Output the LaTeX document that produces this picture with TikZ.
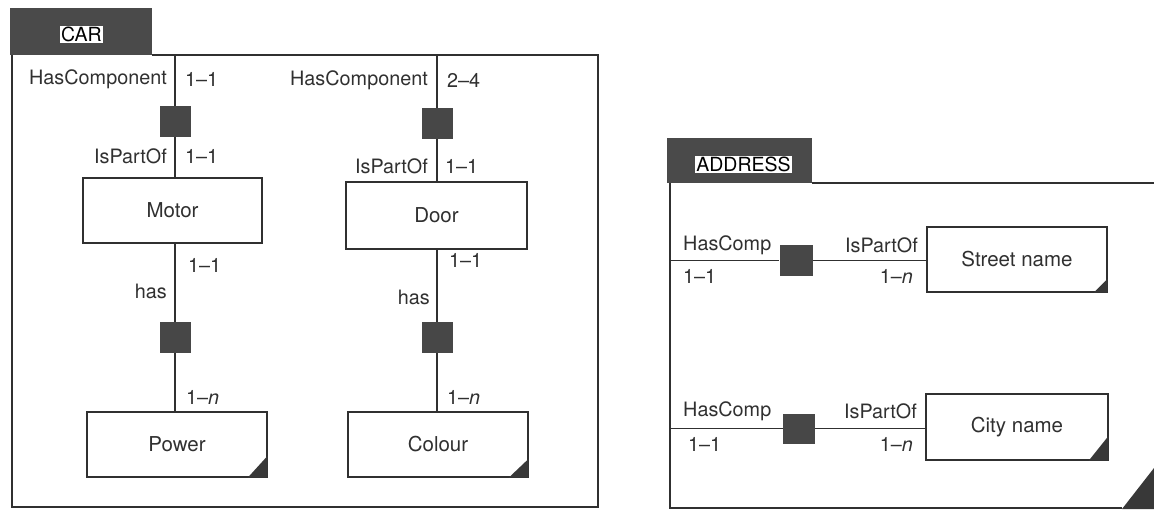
\documentclass[tikz,border=0pt]{standalone}
\usepackage{fontspec}
\setmainfont{TeX Gyre Heros}
\definecolor{ink}{HTML}{303030}
\definecolor{tabfill}{HTML}{4A4A4A}
\definecolor{sqfill}{HTML}{474747}
\definecolor{cornerfill}{HTML}{383838}
\begin{document}
\begin{tikzpicture}[x=1pt,y=-1pt,
  lbl/.style={font=\fontsize{19.8}{22}\selectfont, text=ink, inner sep=0pt},
  entity/.style={draw=ink, line width=1.4pt, fill=white, inner sep=0pt,
    font=\fontsize{20.5}{23}\selectfont, text=ink},
  relsq/.style={draw=none, fill=sqfill, inner sep=0pt, minimum width=31pt, minimum height=31pt},
  frameline/.style={draw=ink, line width=1.5pt},
  conn/.style={draw=ink, line width=1.1pt},
  tabbox/.style={fill=tabfill, draw=none},
  tablabel/.style={fill=white, text=black, inner sep=1pt, font=\fontsize{19.5}{21}\selectfont}
]
\useasboundingbox (0,0) rectangle (1154,509);

% ---------- CAR frame ----------
\fill[tabfill] (10,8) rectangle (152,55);
\node[tablabel, minimum width=43pt, minimum height=17pt] (cartab) at (81.5,34.5) {CAR};
\draw[frameline] (152,55) -- (598,55) -- (598,507) -- (12,507) -- (12,55);

% column 1
\coordinate (c1top) at (175,55);
\node[relsq] (sq1) at (175,121.5) {};
\node[entity, minimum width=179pt, minimum height=65pt] (motor) at (172.5,210.5) {Motor};
\node[relsq] (sq2) at (175,337.5) {};
\node[entity, minimum width=180pt, minimum height=65pt] (power) at (177,444.5) {Power};
\fill[cornerfill] (power.south east) -- ++(-20,0) -- ++(20,-22) -- cycle;

\draw[conn] (c1top) -- (sq1);
\draw[conn] (sq1) -- (sq1 |- motor.north);
\draw[conn] (sq1 |- motor.south) -- (sq2);
\draw[conn] (sq2) -- (sq2 |- power.north);

\node[lbl, anchor=east] (l1) at (167,79) {HasComponent};
\node[lbl, anchor=west] (l2) at (185,79) {1–1};
\node[lbl, anchor=east] (l3) at (167,156) {IsPartOf};
\node[lbl, anchor=west] (l4) at (185,156) {1–1};
\node[lbl, anchor=west] (l5) at (188,265) {1–1};
\node[lbl, anchor=east] (l6) at (167,291) {has};
\node[lbl, anchor=west] (l7) at (186,397) {1–\textit{n}};

% column 2
\coordinate (c2top) at (437,55);
\node[relsq] (sq3) at (437,123.5) {};
\node[entity, minimum width=181pt, minimum height=67pt] (door) at (436.5,215.5) {Door};
\node[relsq] (sq4) at (437,337.5) {};
\node[entity, minimum width=180pt, minimum height=65pt] (colour) at (438,444.5) {Colour};
\fill[cornerfill] (colour.south east) -- ++(-20,0) -- ++(20,-19) -- cycle;

\draw[conn] (c2top) -- (sq3);
\draw[conn] (sq3) -- (sq3 |- door.north);
\draw[conn] (sq3 |- door.south) -- (sq4);
\draw[conn] (sq4) -- (sq4 |- colour.north);

\node[lbl, anchor=east] (m1) at (428,80) {HasComponent};
\node[lbl, anchor=west] (m2) at (447,80) {2–4};
\node[lbl, anchor=east] (m3) at (428,166) {IsPartOf};
\node[lbl, anchor=west] (m4) at (445,166) {1–1};
\node[lbl, anchor=west] (m5) at (449,260) {1–1};
\node[lbl, anchor=east] (m6) at (430,297) {has};
\node[lbl, anchor=west] (m7) at (447,397) {1–\textit{n}};

% ---------- ADDRESS frame ----------
\fill[tabfill] (667,138) rectangle (812,183);
\node[tablabel, minimum width=93pt, minimum height=16pt] (addrtab) at (743.5,164.5) {ADDRESS};
\draw[frameline] (812,183) -- (1154,183);
\draw[frameline] (670,183) -- (670,508) -- (1122,508);
\fill[cornerfill] (1122,509) -- (1154,509) -- (1154,468) -- cycle;

% row 1
\coordinate (a1) at (670,260.5);
\node[relsq, minimum width=33pt] (sq5) at (796,260.5) {};
\node[entity, minimum width=180pt, minimum height=65pt] (street) at (1017,259.5) {Street name};
\fill[cornerfill] (street.south east) -- ++(-14,0) -- ++(14,-14) -- cycle;
\draw[conn] (a1) -- (sq5);
\draw[conn] (sq5) -- (sq5 -| street.west);

\node[lbl, anchor=west] (n1) at (683,245) {HasComp};
\node[lbl, anchor=west] (n2) at (683,276) {1–1};
\node[lbl, anchor=east] (n3) at (918,245) {IsPartOf};
\node[lbl, anchor=east] (n4) at (913,276) {1–\textit{n}};

% row 2
\coordinate (a2) at (670,428.5);
\node[relsq, minimum width=32pt, minimum height=30pt] (sq6) at (799,428.5) {};
\node[entity, minimum width=182pt, minimum height=66pt] (city) at (1017,427) {City name};
\fill[cornerfill] (city.south east) -- ++(-20,0) -- ++(20,-25) -- cycle;
\draw[conn] (a2) -- (sq6);
\draw[conn] (sq6) -- (sq6 -| city.west);

\node[lbl, anchor=west] (p1) at (683,411) {HasComp};
\node[lbl, anchor=west] (p2) at (688,444) {1–1};
\node[lbl, anchor=east] (p3) at (917,411) {IsPartOf};
\node[lbl, anchor=east] (p4) at (913,444) {1–\textit{n}};
\end{tikzpicture}
\end{document}
